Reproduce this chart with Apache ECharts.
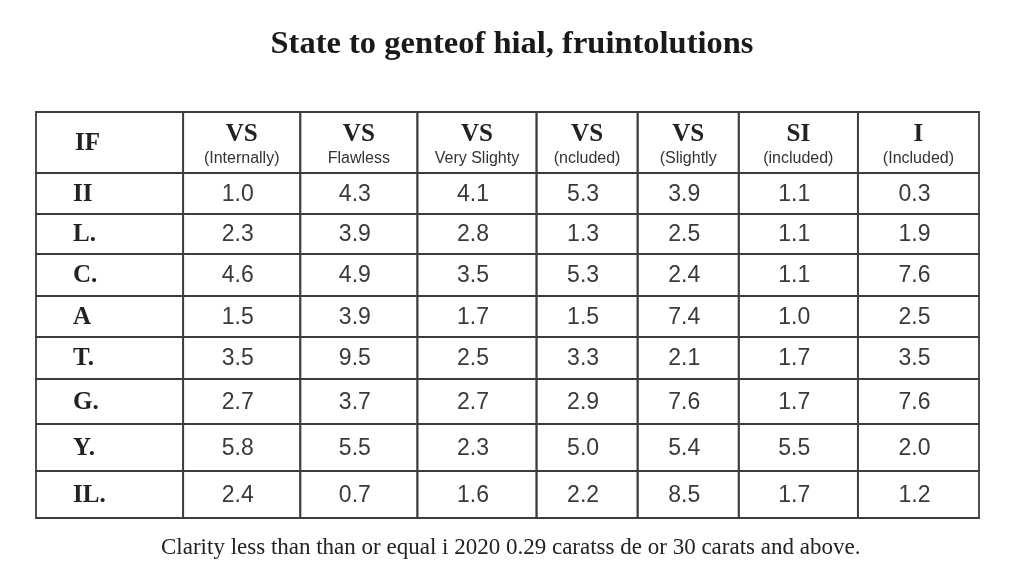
<!DOCTYPE html>
<html><head><meta charset="utf-8">
<script src="https://cdn.jsdelivr.net/npm/echarts@6/dist/echarts.min.js"></script>
<style>html,body{margin:0;padding:0;background:#fff}#c{width:1024px;height:576px}</style>
</head><body><div id="c"></div>
<script>
const titleText = 'State to genteof hial, fruintolutions';
const footText = 'Clarity less than than or equal i 2020 0.29 caratss de or 30 carats and above.';
const cornerLabel = 'IF';
const rowLabels = ['II', 'L.', 'C.', 'A', 'T.', 'G.', 'Y.', 'IL.'];
const headerMain = ['VS', 'VS', 'VS', 'VS', 'VS', 'SI', 'I'];
const headerSub = ['(Internally)', 'Flawless', 'Very Slighty', '(ncluded)', '(Slightly', '(included)', '(Included)'];
const vsInternally = [1.0, 2.3, 4.6, 1.5, 3.5, 2.7, 5.8, 2.4];
const vsFlawless = [4.3, 3.9, 4.9, 3.9, 9.5, 3.7, 5.5, 0.7];
const vsVerySlighty = [4.1, 2.8, 3.5, 1.7, 2.5, 2.7, 2.3, 1.6];
const vsIncluded = [5.3, 1.3, 5.3, 1.5, 3.3, 2.9, 5.0, 2.2];
const vsSlightly = [3.9, 2.5, 2.4, 7.4, 2.1, 7.6, 5.4, 8.5];
const siIncluded = [1.1, 1.1, 1.1, 1.0, 1.7, 1.7, 5.5, 1.7];
const iIncluded = [0.3, 1.9, 7.6, 2.5, 3.5, 7.6, 2.0, 1.2];
const columns = [vsInternally, vsFlawless, vsVerySlighty, vsIncluded, vsSlightly, siIncluded, iIncluded];

// layout (relative widths / heights)
const colWeights = [147, 117, 117, 119, 101, 101, 119, 121];
const rowWeights = [61, 41, 40, 42, 41, 42, 45, 47, 47];
const xEdges = [0]; colWeights.forEach(w => xEdges.push(xEdges[xEdges.length - 1] + w));
const yEdges = [0]; rowWeights.forEach(h => yEdges.push(yEdges[yEdges.length - 1] + h));

// cells: [col, row, kind, text, subText]
const cells = [];
cells.push([0, 0, 'corner', cornerLabel, '']);
headerMain.forEach((m, i) => cells.push([i + 1, 0, 'head', m, headerSub[i]]));
rowLabels.forEach((r, j) => {
  cells.push([0, j + 1, 'rowlab', r, '']);
  columns.forEach((col, i) => cells.push([i + 1, j + 1, 'val', col[j].toFixed(1), '']));
});

const serif = '"Liberation Serif", "DejaVu Serif", serif';
const sans = '"Liberation Sans", Arial, sans-serif';

function renderItem(params, api) {
  const c = cells[params.dataIndex];
  const ci = c[0], ri = c[1];
  const p0 = api.coord([xEdges[ci], yEdges[ri]]);
  const p1 = api.coord([xEdges[ci + 1], yEdges[ri + 1]]);
  const x = Math.min(p0[0], p1[0]), y = Math.min(p0[1], p1[1]);
  const w = Math.abs(p1[0] - p0[0]), h = Math.abs(p1[1] - p0[1]);
  const cx = x + w / 2, cy = y + h / 2;
  const children = [{
    type: 'rect', shape: { x, y, width: w, height: h },
    style: { fill: 'transparent', stroke: '#3c3c3c', lineWidth: 1.8 }
  }];
  if (c[2] === 'corner') {
    children.push({ type: 'text', style: { text: c[3], x: x + 39, y: cy + 1, align: 'left', verticalAlign: 'middle', font: 'bold 25px ' + serif, fill: '#222' } });
  } else if (c[2] === 'head') {
    children.push({ type: 'text', style: { text: c[3], x: cx, y: y + 23, align: 'center', verticalAlign: 'middle', font: 'bold 25px ' + serif, fill: '#222' } });
    children.push({ type: 'text', style: { text: c[4], x: cx, y: y + 47, align: 'center', verticalAlign: 'middle', font: '16px ' + sans, fill: '#333' } });
  } else if (c[2] === 'rowlab') {
    children.push({ type: 'text', style: { text: c[3], x: x + 37, y: cy + 1, align: 'left', verticalAlign: 'middle', font: 'bold 25px ' + serif, fill: '#222' } });
  } else {
    children.push({ type: 'text', style: { text: c[3], x: cx - 4, y: cy + 1, align: 'center', verticalAlign: 'middle', font: '23px ' + sans, fill: '#3a3a3a' } });
  }
  return { type: 'group', children };
}

const chart = echarts.init(document.getElementById('c'));
chart.setOption({
  backgroundColor: '#ffffff',
  animation: false,
  title: [
    { text: titleText, left: 'center', top: 23, textStyle: { fontFamily: serif, fontSize: 32.5, fontWeight: 'bold', color: '#1a1a1a' } },
    { text: footText, left: 156, top: 531, textStyle: { fontFamily: serif, fontSize: 23, fontWeight: 'normal', color: '#222' } }
  ],
  grid: { left: 36, right: 45, top: 112, bottom: 58 },
  xAxis: { type: 'value', min: 0, max: xEdges[xEdges.length - 1], show: false },
  yAxis: { type: 'value', min: 0, max: yEdges[yEdges.length - 1], inverse: true, show: false },
  series: [{
    type: 'custom', renderItem, clip: false,
    encode: { x: 0, y: 1 },
    data: cells.map(c => [c[0], c[1]])
  }]
});
</script></body></html>
